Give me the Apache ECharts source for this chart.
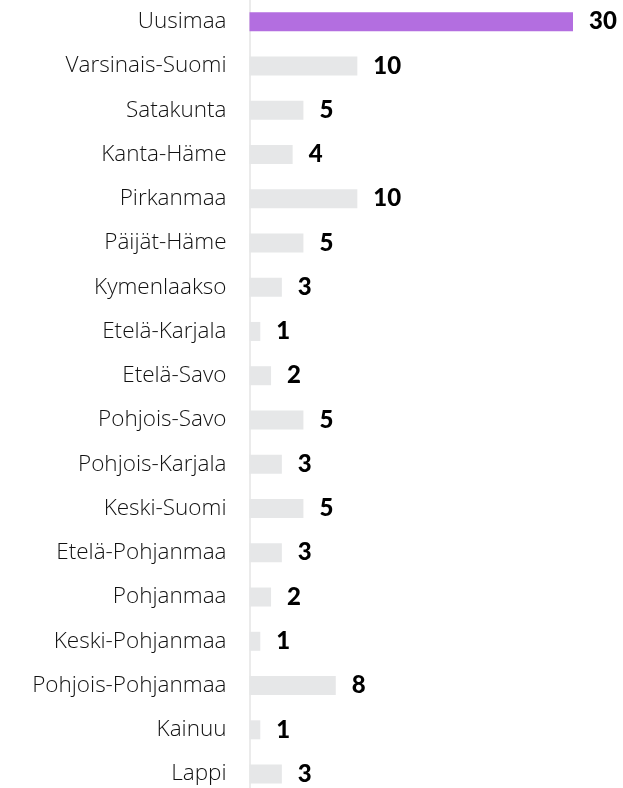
<!DOCTYPE html>
<html>
<head>
<meta charset="utf-8">
<script src="https://cdn.jsdelivr.net/npm/echarts@6/dist/echarts.min.js"></script>
<style>
  html, body { margin: 0; padding: 0; background: #fff; }
  #chart { width: 623px; height: 788px; }
</style>
</head>
<body>
<div id="chart"></div>
<script>
// maakunnat ja arvot
const regions = ['Uusimaa', 'Varsinais-Suomi', 'Satakunta', 'Kanta-Häme', 'Pirkanmaa', 'Päijät-Häme',
  'Kymenlaakso', 'Etelä-Karjala', 'Etelä-Savo', 'Pohjois-Savo', 'Pohjois-Karjala', 'Keski-Suomi',
  'Etelä-Pohjanmaa', 'Pohjanmaa', 'Keski-Pohjanmaa', 'Pohjois-Pohjanmaa', 'Kainuu', 'Lappi']
const counts = [30, 10, 5, 4, 10, 5, 3, 1, 2, 5, 3, 5, 3, 2, 1, 8, 1, 3]
const highlighted = ['Uusimaa']

const chart = echarts.init(document.getElementById('chart'))

chart.setOption({
  animation: false,
  grid: {
    left: 249.5, width: 323.5, top: -0.5, height: 796.7,
    containLabel: false, outerBoundsMode: 'none'
  },
  xAxis: {
    type: 'value',
    min: 0,
    max: 30,
    show: false
  },
  yAxis: {
    type: 'category',
    data: regions,
    inverse: true,
    axisLine: { show: true, lineStyle: { color: '#ebebeb', width: 2 } },
    axisTick: { show: false },
    axisLabel: {
      margin: 23,
      fontFamily: 'Open Sans',
      fontWeight: 300,
      fontSize: 22.5,
      color: '#111'
    }
  },
  series: [{
    type: 'bar',
    barWidth: 19,
    data: counts.map((v, i) => ({
      value: v,
      itemStyle: { color: highlighted.includes(regions[i]) ? '#b36ee0' : '#e6e7e8' }
    })),
    label: {
      show: true,
      position: 'right',
      distance: 16,
      fontFamily: 'Lato',
      fontWeight: 900,
      fontSize: 24,
      color: '#000'
    }
  }]
})
</script>
</body>
</html>
